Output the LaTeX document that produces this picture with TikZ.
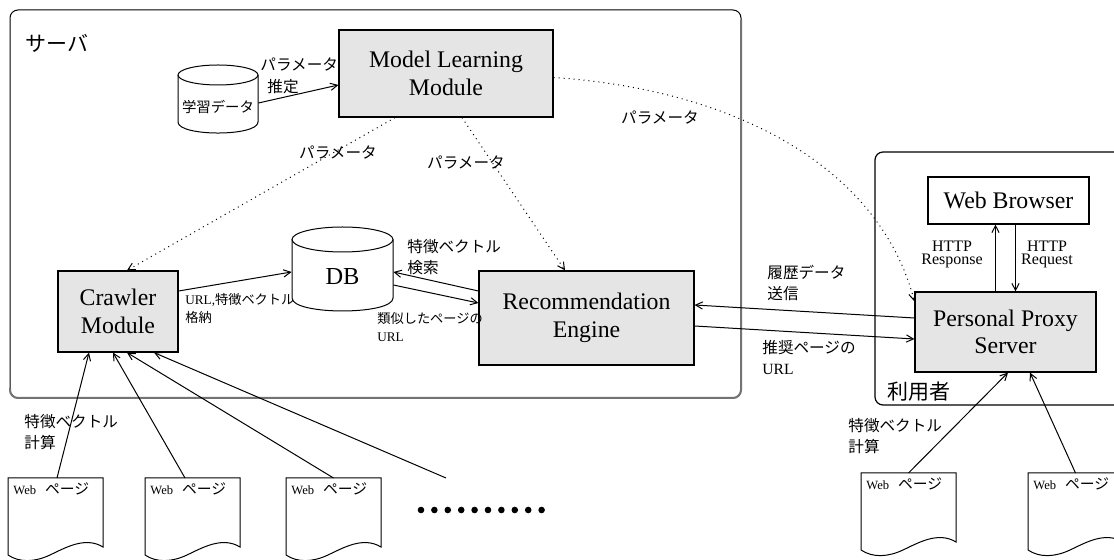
\documentclass[tikz,border=0pt]{standalone}
\usepackage{fontspec}
\setmainfont{Liberation Serif}
\newfontfamily\jp{Noto Sans CJK JP}
\usetikzlibrary{arrows.meta,calc}
\begin{document}
\begin{tikzpicture}[x=0.5pt,y=-0.5pt,
  conn/.style={line width=0.5pt,-{Straight Barb[length=3.5pt,width=3.6pt]}},
  dconn/.style={conn,dash pattern=on 0.5pt off 2pt},
  module/.style={draw,line width=0.6pt,fill=black!10,inner sep=0pt,align=center,font=\fontsize{11.9}{13.8}\selectfont},
  lbl/.style={inner sep=0pt,align=left,font=\jp\fontsize{7.8}{10.5}\selectfont},
  slbl/.style={inner sep=0pt,align=left,font=\jp\fontsize{6.6}{9}\selectfont},
  http/.style={inner sep=0pt,align=center,font=\fontsize{8}{6.5}\selectfont},
  region/.style={inner sep=0pt,font=\jp\fontsize{10.5}{12}\selectfont},
  pg/.style={line width=0.5pt,fill=white},
  webpg/.pic={
    \draw[pg] (0,0) -- (95,0) -- (95,69) .. controls (77,58) and (57,70) .. (42,77)
      .. controls (27,84) and (12,85) .. (0,77) -- cycle;
    \node[anchor=west,inner sep=0pt,font=\fontsize{6.3}{7}\selectfont] (-txt) at (5,11)
      {Web\hspace{4.5pt}{\jp\fontsize{7.4}{8}\selectfont ページ}};
    \coordinate (-top) at (47.5,0);
  },
]
\clip (0,0) rectangle (1114,560);
\fill[white] (0,0) rectangle (1114,560);

% regions
\draw[line width=0.5pt, rounded corners=4pt] (10,10) rectangle (741,398);
\draw[line width=1pt, black!55, rounded corners=4pt] (741,20) -- (741,398) -- (10,398) -- (10,388);
\draw[line width=0.6pt, rounded corners=4pt] (875,152) rectangle (1140,405);
\node[region,anchor=west] (srv) at (25,43) {サーバ};
\node[region,anchor=west] (usr) at (887,392) {利用者};

% cylinders
\draw[line width=0.5pt] (218,75) ellipse (40 and 10);
\draw[line width=0.5pt] (178,75) -- (178,122) .. controls (178,136.7) and (258,136.7) .. (258,122) -- (258,75);
\node[inner sep=0pt,minimum width=40pt,minimum height=34pt] (learn) at (218,99) {};
\node[slbl,font=\jp\fontsize{7.2}{9}\selectfont] (learntxt) at (218,107) {学習データ};

\draw[line width=0.5pt] (342.5,239.5) ellipse (50.5 and 12.5);
\draw[line width=0.5pt] (292,239.5) -- (292,298) .. controls (292,315.3) and (393,315.3) .. (393,298) -- (393,239.5);
\node[inner sep=0pt,minimum width=50.5pt,minimum height=42pt] (db) at (342.5,269) {};
\node[inner sep=0pt,font=\fontsize{12.2}{13.8}\selectfont] (dbtxt) at (342.5,277) {DB};

% modules
\node[module,minimum width=107pt,minimum height=43.5pt] (mlm) at (446,73.5) {Model Learning\\Module};
\node[module,minimum width=60pt,minimum height=40.5pt] (crawler) at (118,311.5) {Crawler\\Module};
\node[module,minimum width=107.5pt,minimum height=47pt] (re) at (586.5,318) {Recommendation\\Engine};
\node[module,minimum width=90.5pt,minimum height=40pt] (pps) at (1005.5,332) {Personal Proxy\\Server};
\node[module,fill=white,minimum width=80.5pt,minimum height=23.5pt] (wb) at (1008.5,200.5) {Web Browser};

% web pages
\pic (p1) at (8,478) {webpg};
\pic (p2) at (145,478) {webpg};
\pic (p3) at (286,478) {webpg};
\pic (p4) at (861,473) {webpg};
\pic (p5) at (1028,473) {webpg};
\coordinate (fe) at (446,478);
\foreach \i in {0,...,9} \fill ({421+13.4*\i},510) circle[radius=1.65pt];

% connectors
\draw[conn] ([yshift=-2pt]learn.east) -- ([yshift=-5.75pt]mlm.west);
\draw[dconn] ([xshift=-25.5pt]mlm.south) -- ([xshift=4.5pt]crawler.north);
\draw[dconn] ([xshift=8pt]mlm.south) -- ([xshift=-10.75pt]re.north);
\draw[dconn] ([yshift=-2pt]mlm.east) .. controls (740,90) and (880,170) .. ([yshift=-5pt]pps.north west);
\draw[conn] ([yshift=10.25pt]crawler.east) -- ([yshift=-1.5pt]db.west);
\draw[conn] ([yshift=13.5pt]re.west) -- ([yshift=-1.5pt]db.east);
\draw[conn] ([yshift=-8pt]db.east) -- ([yshift=7.5pt]re.west);
\draw[conn] ([yshift=7pt]pps.west) -- ([yshift=6.5pt]re.east);
\draw[conn] ([yshift=-4pt]re.east) -- ([yshift=-3.5pt]pps.west);
\draw[conn] ([xshift=-5pt]pps.north) -- ([xshift=-5pt]pps.north |- wb.south);
\draw[conn] ([xshift=5pt]pps.north |- wb.south) -- ([xshift=5pt]pps.north);
\draw[conn] ([xshift=0.75pt]p1-top) -- ([xshift=-14.5pt]crawler.south);
\draw[conn] ([xshift=-3.75pt]p2-top) -- ([xshift=-2.5pt]crawler.south);
\draw[conn] (p3-top) -- ([xshift=4.5pt]crawler.south);
\draw[conn] (fe) -- ([xshift=18pt]crawler.south);
\draw[conn] (p4-top) -- ([xshift=1.25pt]pps.south);
\draw[conn] (p5-top) -- ([xshift=12.25pt]pps.south);

% labels
\node[lbl,anchor=west,font=\jp\fontsize{7.8}{11}\selectfont] (l1) at (260,76) {パラメータ\\\hspace{3.5pt}推定};
\node[lbl] (l2) at (338,153) {パラメータ};
\node[lbl] (l3) at (466,163) {パラメータ};
\node[lbl] (l4) at (660,118) {パラメータ};
\node[slbl,anchor=west] (l5) at (185,308) {{\rmfamily URL,}特徴ベクトル\\格納};
\node[lbl,anchor=west] (l6) at (407,257) {特徴ベクトル\\検索};
\node[slbl,anchor=west] (l7) at (377,327) {類似したページの\\{\rmfamily URL}};
\node[lbl,anchor=west] (l8) at (767,282.5) {履歴データ\\送信};
\node[lbl,anchor=west] (l9) at (762,358) {推奨ページの\\{\rmfamily URL}};
\node[http] (h1) at (952,254) {HTTP\\Response};
\node[http] (h2) at (1047,254) {HTTP\\Request};
\node[lbl,anchor=west] (l10) at (24,432) {特徴ベクトル\\計算};
\node[lbl,anchor=west] (l11) at (848,436) {特徴ベクトル\\計算};
\end{tikzpicture}
\end{document}
